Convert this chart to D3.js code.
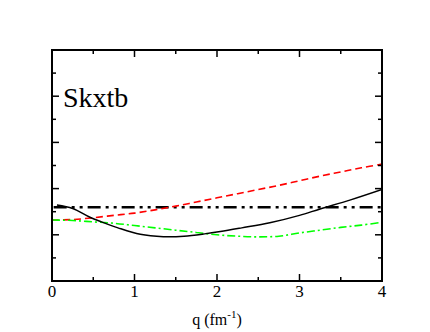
<!DOCTYPE html>
<html>
<head>
<meta charset="utf-8">
<script src="https://cdn.jsdelivr.net/npm/d3@7"></script>
<style>
  body { margin: 0; background: #fff; }
  svg { display: block; }
  .serif { font-family: "Liberation Serif", "DejaVu Serif", "Times New Roman", Times, serif; }
</style>
</head>
<body>
<svg width="430" height="332"></svg>
<script>
// Data (y axis has no labels, arbitrary units 0..5)
const qSolid = [0.06, 0.25, 0.46, 0.6, 0.8, 1.07, 1.35, 1.6, 1.85, 2.04, 2.3, 2.64, 3.0, 3.25, 3.61, 4.0];
const solid = [1.645, 1.57, 1.38, 1.28, 1.15, 1.01, 0.96, 0.97, 1.02, 1.07, 1.15, 1.26, 1.42, 1.56, 1.75, 1.98];

const qGrid = [0, 0.25, 0.5, 0.75, 1.0, 1.25, 1.5, 1.75, 2.0, 2.25, 2.5, 2.75, 3.0, 3.25, 3.5, 3.75, 4.0];
const red = [1.32, 1.33, 1.37, 1.42, 1.47, 1.54, 1.62, 1.71, 1.80, 1.89, 1.98, 2.07, 2.17, 2.27, 2.36, 2.45, 2.53];
const green = [1.32, 1.31, 1.28, 1.25, 1.20, 1.15, 1.10, 1.05, 1.00, 0.97, 0.955, 0.97, 1.04, 1.10, 1.16, 1.21, 1.27];

const flatQ = [0.02, 4.0];
const flat = [1.595, 1.595];

const xTicks = [0, 1, 2, 3, 4];
const label = "Skxtb";

const svg = d3.select("svg");
const mLeft = 52, mRight = 382, mTop = 50, mBottom = 281;

const x = d3.scaleLinear().domain([0, 4]).range([mLeft, mRight]);
const y = d3.scaleLinear().domain([0, 5]).range([mBottom, mTop]);

const line = d3.line().x(d => x(d[0])).y(d => y(d[1])).curve(d3.curveCatmullRom.alpha(0.5));

svg.append("clipPath").attr("id", "c")
  .append("rect").attr("x", mLeft).attr("y", mTop).attr("width", mRight - mLeft).attr("height", mBottom - mTop);

const g = svg.append("g").attr("clip-path", "url(#c)");

g.append("path").datum(d3.zip(flatQ, flat))
  .attr("d", line).attr("fill", "none").attr("stroke", "#000")
  .attr("stroke-width", 2.6).attr("stroke-dasharray", "13,5,3,5,3,5");

g.append("path").datum(d3.zip(qGrid, red))
  .attr("d", line).attr("fill", "none").attr("stroke", "#ff0000")
  .attr("stroke-width", 1.6).attr("stroke-dasharray", "7,4");

g.append("path").datum(d3.zip(qGrid, green))
  .attr("d", line).attr("fill", "none").attr("stroke", "#00ff00")
  .attr("stroke-width", 1.6).attr("stroke-dasharray", "8,3,2,3");

g.append("path").datum(d3.zip(qSolid, solid))
  .attr("d", line).attr("fill", "none").attr("stroke", "#000")
  .attr("stroke-width", 1.5);

// axes: ticks pointing inward on all four sides
const xMinor = d3.range(0.5, 4, 1);
const yMajor = d3.range(1, 5, 1);
const yMinor = d3.range(0.5, 5, 1);

const ax = svg.append("g").attr("stroke", "#000").attr("stroke-width", 1.5);
xTicks.slice(1, -1).forEach(v => {
  ax.append("line").attr("x1", x(v)).attr("x2", x(v)).attr("y1", mBottom).attr("y2", mBottom - 7);
  ax.append("line").attr("x1", x(v)).attr("x2", x(v)).attr("y1", mTop).attr("y2", mTop + 7);
});
xMinor.forEach(v => {
  ax.append("line").attr("x1", x(v)).attr("x2", x(v)).attr("y1", mBottom).attr("y2", mBottom - 4);
  ax.append("line").attr("x1", x(v)).attr("x2", x(v)).attr("y1", mTop).attr("y2", mTop + 4);
});
yMajor.forEach(v => {
  ax.append("line").attr("x1", mLeft).attr("x2", mLeft + 7).attr("y1", y(v)).attr("y2", y(v));
  ax.append("line").attr("x1", mRight).attr("x2", mRight - 7).attr("y1", y(v)).attr("y2", y(v));
});
yMinor.forEach(v => {
  ax.append("line").attr("x1", mLeft).attr("x2", mLeft + 4).attr("y1", y(v)).attr("y2", y(v));
  ax.append("line").attr("x1", mRight).attr("x2", mRight - 4).attr("y1", y(v)).attr("y2", y(v));
});

svg.append("rect")
  .attr("x", mLeft).attr("y", mTop).attr("width", mRight - mLeft).attr("height", mBottom - mTop)
  .attr("fill", "none").attr("stroke", "#000").attr("stroke-width", 2);

svg.selectAll(".xl").data(xTicks).enter().append("text")
  .attr("class", "xl serif")
  .attr("x", d => x(d)).attr("y", 297)
  .attr("text-anchor", "middle").attr("font-size", 17)
  .text(d => d);

const t = svg.append("text").attr("class", "serif").attr("x", x(2)).attr("y", 325)
  .attr("text-anchor", "middle").attr("font-size", 16);
t.append("tspan").text("q (fm");
t.append("tspan").attr("dy", -7).attr("font-size", 11).text("-1");
t.append("tspan").attr("dy", 7).text(")");

svg.append("text").attr("class", "serif").attr("x", 63).attr("y", 107)
  .attr("font-size", 28).text(label);
</script>
</body>
</html>
